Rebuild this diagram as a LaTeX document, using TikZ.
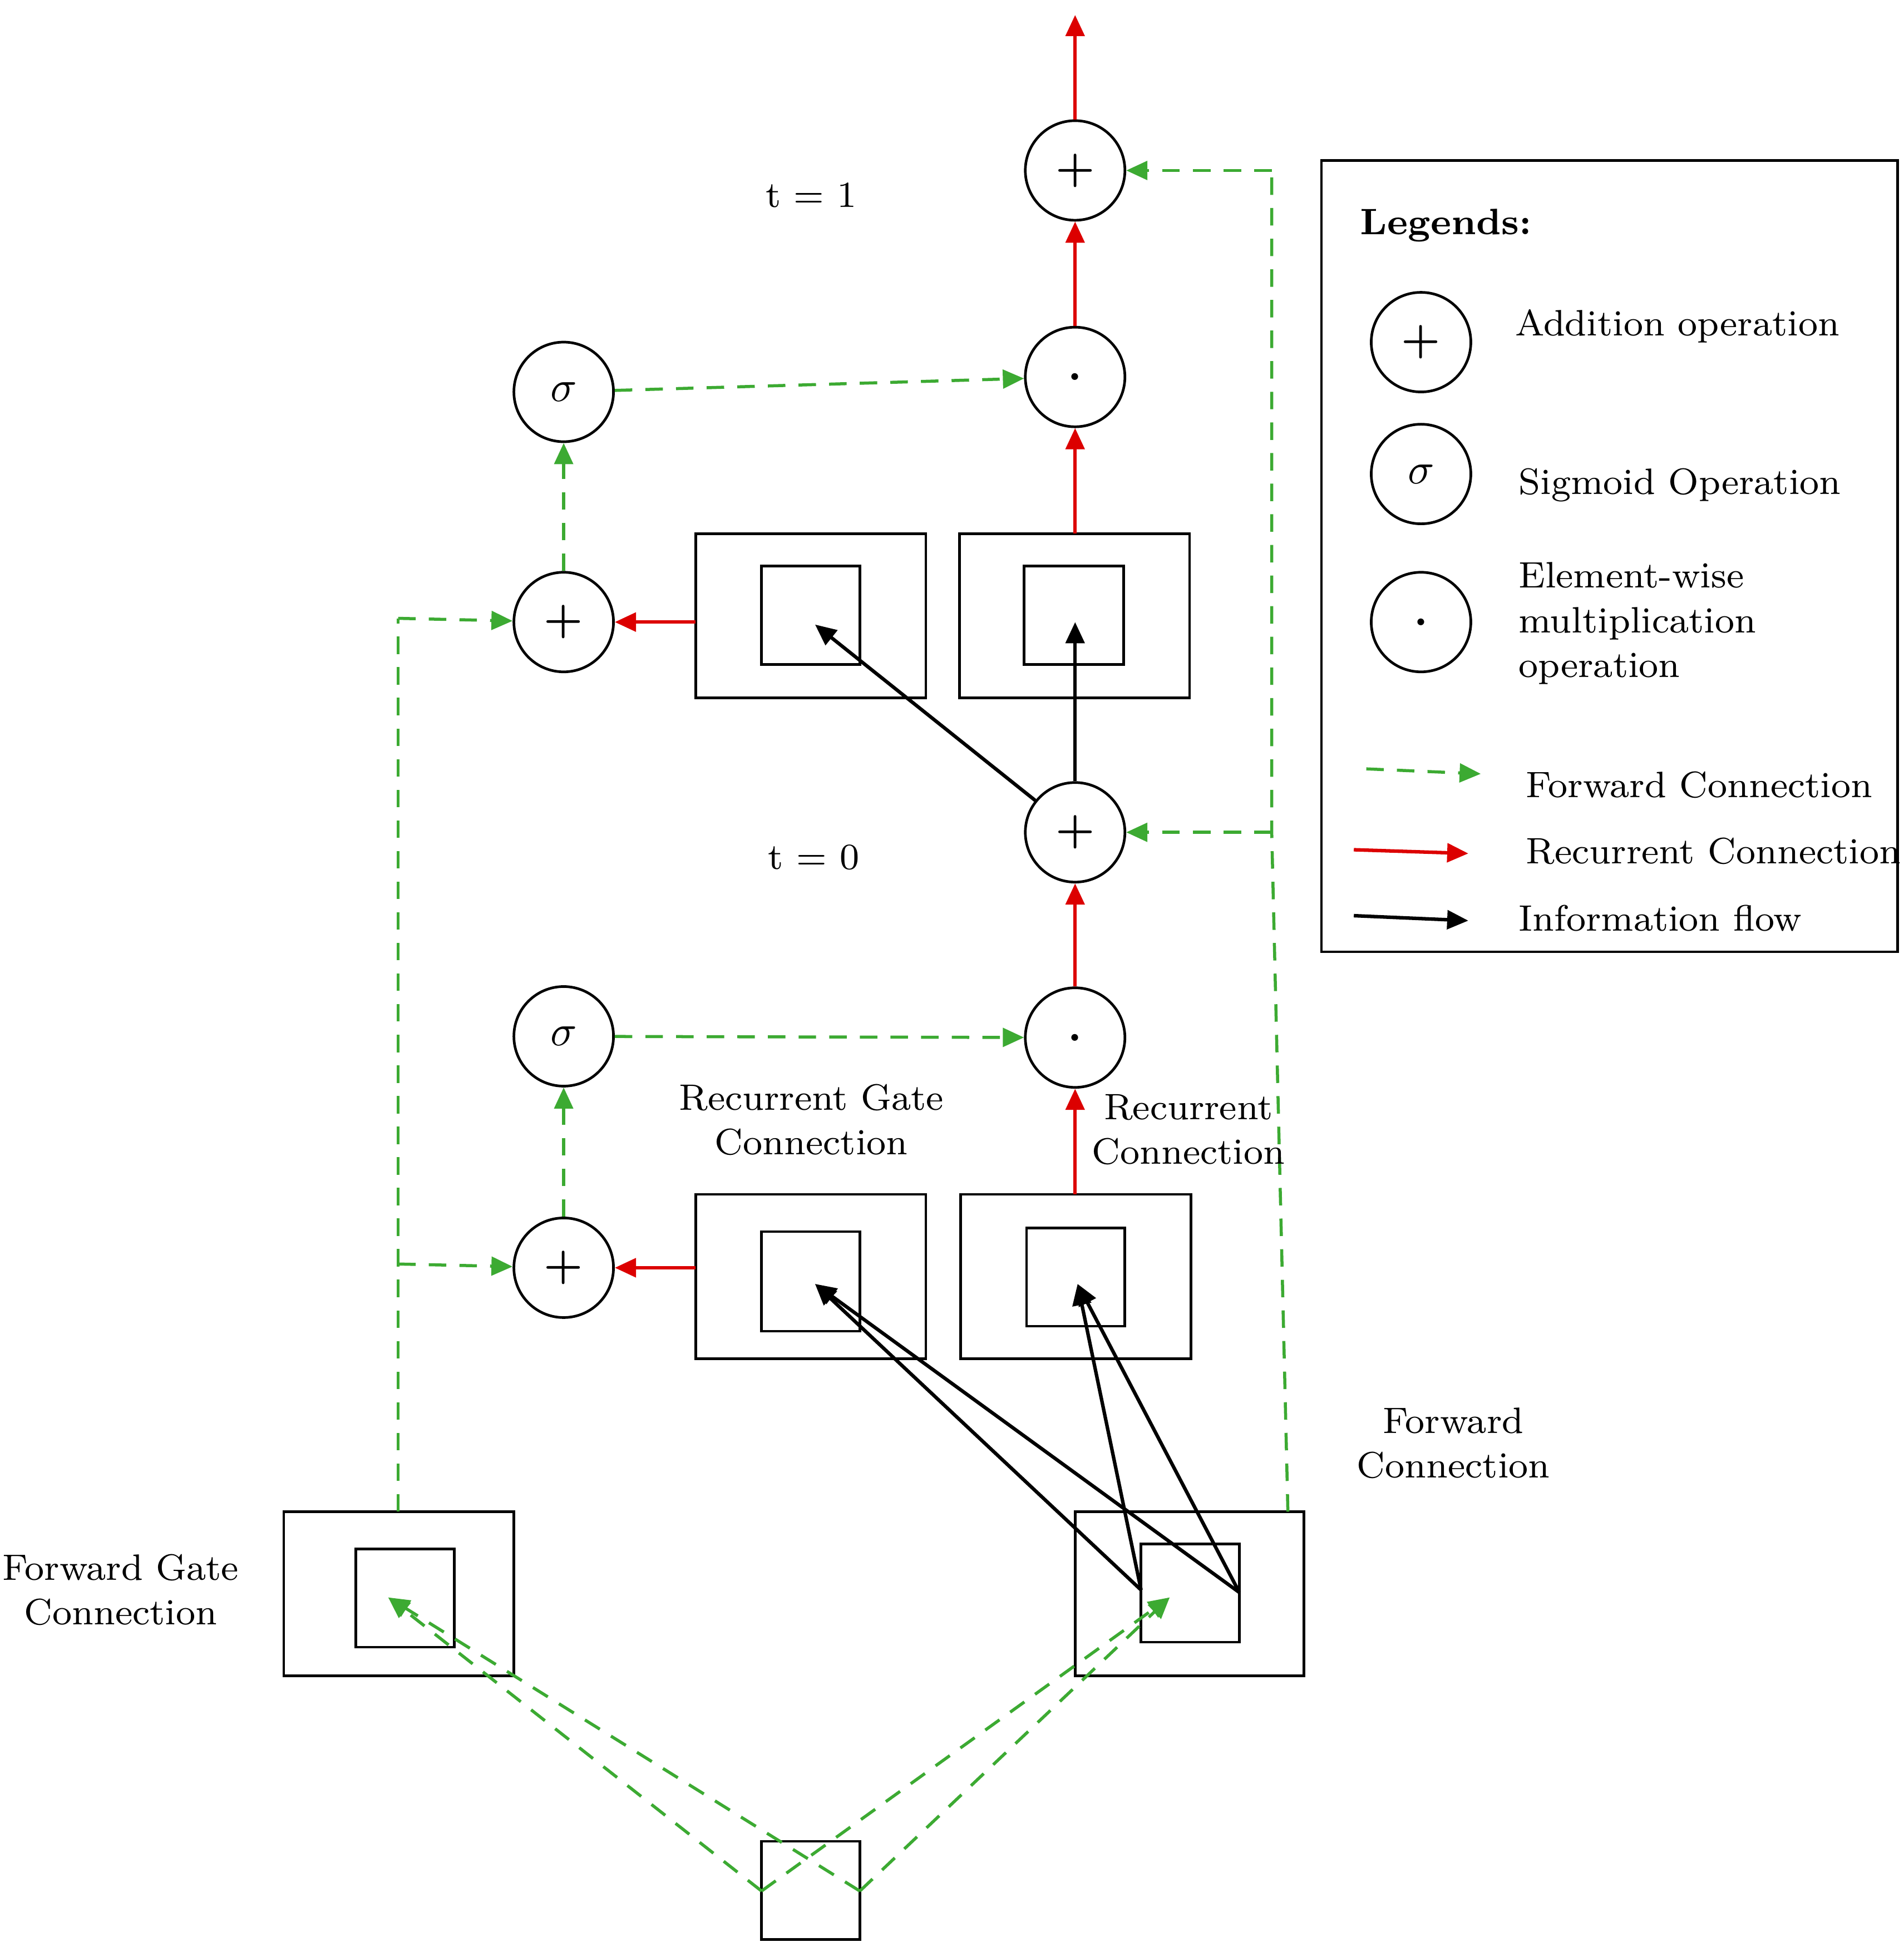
\documentclass[tikz,border=0pt]{standalone}
\usetikzlibrary{arrows.meta}
\begin{document}
\begin{tikzpicture}[x=0.01cm,y=-0.01cm,
  op/.style={circle,draw,line width=0.6pt,minimum size=0.8cm,inner sep=0pt,font=\normalsize},
  box/.style={draw,line width=0.6pt,inner sep=0pt},
  tip/.style={-{Triangle[length=0.17cm,width=0.15cm]}},
  fwd/.style={tip,draw={rgb,255:red,60;green,170;blue,50},dashed,line width=0.7pt,dash pattern=on 4pt off 3pt},
  rec/.style={tip,draw={rgb,255:red,220;green,0;blue,0},line width=0.8pt},
  inf/.style={tip,draw=black,line width=0.8pt},
  fwdl/.style={draw={rgb,255:red,60;green,170;blue,50},dashed,line width=0.7pt,dash pattern=on 4pt off 3pt},
  lbl/.style={font=\fontsize{8.4}{10.2}\selectfont,align=center}]
\useasboundingbox (0,0) rectangle (1530,1565);
% circles
\node[op] (a1) at (864,137) {\textbf{+}};
\node[op] (m1) at (864,303) {\textbf{.}};
\node[op] (s1) at (453,315) {$\sigma$};
\node[op] (p1) at (453,500) {\textbf{+}};
\node[op] (a0) at (864,669) {\textbf{+}};
\node[op] (s0) at (453,833) {$\sigma$};
\node[op] (m0) at (864,834) {\textbf{.}};
\node[op] (p0) at (453,1019) {\textbf{+}};
% boxes
\draw[box] (559,429) rectangle (744,561); \draw[box] (612,455) rectangle (691,534);
\draw[box] (771,429) rectangle (956,561); \draw[box] (823,455) rectangle (903,534);
\draw[box] (559,960) rectangle (744,1092); \draw[box] (612,990) rectangle (691,1070);
\draw[box] (772,960) rectangle (957,1092); \draw[box] (825,987) rectangle (904,1066);
\draw[box] (228,1215) rectangle (413,1347); \draw[box] (286,1245) rectangle (365,1324);
\draw[box] (864,1215) rectangle (1048,1347); \draw[box] (917,1241) rectangle (996,1320);
\draw[box] (612,1480) rectangle (691,1559);
\draw[box] (1062,129) rectangle (1525,765);
% coordinates
\coordinate (top) at (864,12);
\coordinate (rgu) at (559,500); \coordinate (rgl) at (559,1019);
\coordinate (rcu) at (864,429); \coordinate (rcl) at (864,960);
\coordinate (rgui) at (655,502); \coordinate (rcui) at (864,500);
\coordinate (fr1) at (917,1278); \coordinate (fr2) at (996,1280);
\coordinate (rgli) at (655,1032); \coordinate (rcli) at (866,1032);
\coordinate (in1) at (612,1520); \coordinate (in2) at (691,1520);
\coordinate (fgi) at (312,1284); \coordinate (fri) at (940,1284);
\coordinate (rb) at (1035,1215); \coordinate (rm) at (1022,669); \coordinate (rt) at (1022,137);
\coordinate (lb) at (320,1215); \coordinate (lm) at (320,1016); \coordinate (lt) at (320,497);
% red
\draw[rec] (a1) -- (top);
\draw[rec] (m1) -- (a1);
\draw[rec] (rcu) -- (m1);
\draw[rec] (rgu) -- (p1);
\draw[rec] (m0) -- (a0);
\draw[rec] (rcl) -- (m0);
\draw[rec] (rgl) -- (p0);
% black
\draw[inf] (a0) -- (rgui);
\draw[inf] (a0) -- (rcui);
\draw[inf] (fr1) -- (rgli);
\draw[inf] (fr2) -- (rgli);
\draw[inf] (fr1) -- (rcli);
\draw[inf] (fr2) -- (rcli);
% green
\draw[fwd] (p0) -- (s0);
\draw[fwd] (p1) -- (s1);
\draw[fwd] (s0) -- (m0);
\draw[fwd] (s1) -- (m1);
\draw[fwdl] (rb) -- (rm) -- (rt);
\draw[fwd] (rt) -- (a1);
\draw[fwd] (rm) -- (a0);
\draw[fwdl] (lb) -- (lm) -- (lt);
\draw[fwd] (lt) -- (p1);
\draw[fwd] (lm) -- (p0);
\draw[fwd] (in1) -- (fgi);
\draw[fwd] (in2) -- (fgi);
\draw[fwd] (in1) -- (fri);
\draw[fwd] (in2) -- (fri);
% labels
\node[lbl] (t1) at (652,157) {t = 1};
\node[lbl] (t0) at (654,689) {t = 0};
\node[lbl] (l1) at (652,900) {Recurrent Gate\\Connection};
\node[lbl] (l2) at (955,908) {Recurrent\\Connection};
\node[lbl] (l3) at (1168,1160) {Forward\\Connection};
\node[lbl] (l4) at (97,1278) {Forward Gate\\Connection};
% legend
\node[lbl,font=\fontsize{8.4}{10.2}\selectfont\bfseries] (lg) at (1162,181) {Legends:};
\node[op] (la) at (1142,275) {\textbf{+}};
\node[op] (ls) at (1142,381) {$\sigma$};
\node[op] (lm2) at (1142,500) {\textbf{.}};
\node[lbl] (ta) at (1348,262) {Addition operation};
\node[lbl] (ts) at (1350,390) {Sigmoid Operation};
\node[lbl,align=left,anchor=west] (tm) at (1208,501) {Element-wise\\multiplication\\operation};
\coordinate (g1) at (1098,618); \coordinate (g2) at (1190,622);
\coordinate (r1) at (1088,683); \coordinate (r2) at (1180,686);
\coordinate (b1) at (1088,736); \coordinate (b2) at (1180,740);
\draw[fwd] (g1) -- (g2);
\draw[rec] (r1) -- (r2);
\draw[inf] (b1) -- (b2);
\node[lbl,anchor=west] (tf) at (1214,631) {Forward Connection};
\node[lbl,anchor=west] (tr) at (1214,684) {Recurrent Connection};
\node[lbl,anchor=west] (ti) at (1208,738) {Information flow};
\end{tikzpicture}
\end{document}
